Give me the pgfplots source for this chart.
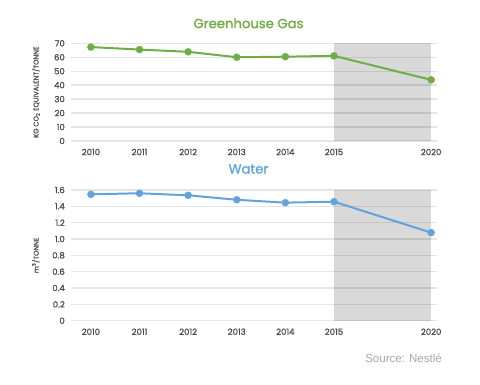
\documentclass[border=0pt]{standalone}
\usepackage{pgfplots}
\pgfplotsset{compat=1.18}
\usepackage{fontspec}
\setmainfont{Poppins}
\newfontfamily\medfont{Poppins}[FakeBold=1.2]
\newfontfamily\titfont{Poppins}[FakeBold=1.6]
\newfontfamily\srcfont{Liberation Sans}
\definecolor{ggreen}{RGB}{112,173,71}
\definecolor{wblue}{RGB}{99,163,221}
\definecolor{shade}{RGB}{217,217,217}
\definecolor{tickc}{RGB}{75,75,75}
\definecolor{srcc}{RGB}{165,165,165}

\pgfplotsset{
  mybase/.style={
    set layers=standard,
    scale only axis,
    width=366pt,
    xmin=-0.41, xmax=7.12,
    xtick={0,1,2,3,4,5,7},
    xticklabels={2010,2011,2012,2013,2014,2015,2020},
    axis line style={draw=none},
    major tick length=0pt,
    ymajorgrids,
    grid style={black, opacity=0.1, line width=1.4pt},
    /pgf/number format/assume math mode=true,
    tick label style={font=\medfont\fontsize{8.5}{10}\selectfont, text=tickc},
    xticklabel style={anchor=center, yshift=-11pt},
    yticklabel style={anchor=east, inner sep=0pt, xshift=-6pt},
    every axis y label/.style={at={(axis description cs:-0.096,0.5)}, rotate=90, anchor=center, font=\medfont\fontsize{6.8}{8}\selectfont, text=tickc},
    clip=false,
  }
}

\begin{document}
\begin{tikzpicture}
\path (0pt,0pt) rectangle (480pt,385pt);

\begin{axis}[mybase,
  at={(71pt,244pt)}, anchor=south west,
  height=97.7pt,
  ymin=0, ymax=70,
  ytick={0,10,20,30,40,50,60,70},
  ylabel={KG CO\textsubscript{2} EQUIVALENT/TONNE},
  title={Greenhouse Gas},
  title style={at={(axis description cs:0.485,1)}, anchor=center, yshift=14pt, font=\titfont\fontsize{13.2}{15}\selectfont, text=ggreen},
]
\addplot[fill=shade, draw=none, on layer=axis background] coordinates {(5,70) (7,70)} \closedcycle;
\addplot[ggreen, line width=2pt, mark=*, mark size=3.5pt, mark options={solid, fill=ggreen, draw=ggreen, line width=0.4pt}]
  coordinates {(0,67.3) (1,65.5) (2,63.9) (3,60.0) (4,60.4) (5,61.0) (7,43.8)};
\end{axis}

\begin{axis}[mybase,
  at={(71pt,64.3pt)}, anchor=south west,
  height=130.7pt,
  ymin=0, ymax=1.6,
  ytick={0,0.2,0.4,0.6,0.8,1.0,1.2,1.4,1.6},
  yticklabels={0,0.2,0.4,0.6,0.8,1.0,1.2,1.4,1.6},
  ylabel={m\textsuperscript{3}/TONNE},
  title={Water},
  title style={at={(axis description cs:0.485,1)}, anchor=center, yshift=15pt, font=\titfont\fontsize{13.2}{15}\selectfont, text=wblue},
]
\addplot[fill=shade, draw=none, on layer=axis background] coordinates {(5,1.6) (7,1.6)} \closedcycle;
\addplot[wblue, line width=2pt, mark=*, mark size=3.5pt, mark options={solid, fill=wblue, draw=wblue, line width=0.4pt}]
  coordinates {(0,1.547) (1,1.56) (2,1.535) (3,1.48) (4,1.445) (5,1.457) (7,1.078)};
\end{axis}

\node[anchor=east, inner sep=0pt, font=\srcfont\fontsize{11.5}{13}\selectfont, text=srcc] at (442pt,27pt) {Source: Nestlé};
\end{tikzpicture}
\end{document}
